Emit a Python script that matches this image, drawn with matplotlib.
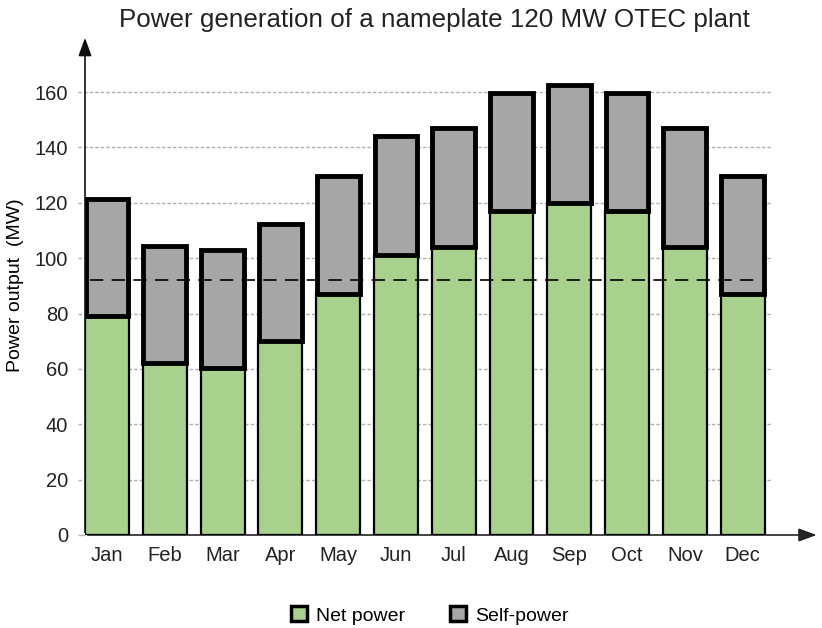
import numpy as np
import matplotlib.pyplot as plt

months = ['Jan', 'Feb', 'Mar', 'Apr', 'May', 'Jun', 'Jul', 'Aug', 'Sep', 'Oct', 'Nov', 'Dec']
net_power = [79, 62, 60.5, 70, 87, 101, 104, 117, 120, 117, 104, 87]
self_power = [42.5, 42.5, 42.5, 42.5, 42.5, 43, 43, 42.5, 42.5, 42.5, 43, 42.5]
average_net = 92
grid_ticks = [20, 40, 60, 80, 100, 120, 140, 160]

plt.rcParams['font.family'] = ['Liberation Sans', 'DejaVu Sans']

fig = plt.figure(figsize=(8.22, 6.28), dpi=100)
ax = fig.add_axes([85 / 822, 1 - 535 / 628, 1 - 85 / 822 - 0.003, (535 - 35) / 628])

x = np.arange(len(months))
green = '#a9d18e'
grey = '#a6a6a6'

# grid lines, slightly left of the axis like the original
ax.hlines(grid_ticks, -0.5, 11.5, colors='#b0b0b0', linestyles=(0, (2.5, 1.5)), linewidth=1, zorder=0, clip_on=False)
ax.hlines(0, -0.5, -0.38, colors='#b0b0b0', linewidth=1, clip_on=False)

ax.bar(x, net_power, width=0.76, color=green, edgecolor='black', linewidth=1.6, zorder=2)
ax.bar(x, self_power, width=0.74, bottom=net_power, color=grey, edgecolor='black', linewidth=3.5, zorder=3)

ax.hlines(average_net, -0.29, 11.27, colors='black', linestyles=(0, (8, 5)), linewidth=1.2, zorder=4)

ax.set_xlim(-0.38, 12.33)
ax.set_ylim(0, 180.6)
ax.set_xticks(x)
ax.set_xticklabels(months, fontsize=14.5)
ax.set_yticks([0] + grid_ticks)
ax.tick_params(length=0, labelsize=14.5, colors='#222222')
ax.tick_params(axis='x', pad=8)
ax.tick_params(axis='y', pad=12)
for s in ax.spines.values():
    s.set_visible(False)

# axis arrows
ax.annotate('', xy=(0, 1), xytext=(0, 0), xycoords='axes fraction',
            arrowprops=dict(arrowstyle='-|>,head_length=1.1,head_width=0.4', color='#111111', lw=1.2), zorder=5)
ax.annotate('', xy=(1, 0), xytext=(0, 0), xycoords='axes fraction',
            arrowprops=dict(arrowstyle='-|>,head_length=1.1,head_width=0.4', color='#222222', lw=1.2), zorder=1)

ax.set_ylabel('Power output  (MW)', fontsize=14, labelpad=8)
fig.text(0.528, 0.968, 'Power generation of a nameplate 120 MW OTEC plant', ha='center', va='center', fontsize=18.7, color='#222222')

handles = [plt.Rectangle((0, 0), 1, 1, facecolor=green, edgecolor='black', linewidth=2.5),
           plt.Rectangle((0, 0), 1, 1, facecolor=grey, edgecolor='black', linewidth=2.5)]
fig.legend(handles, ['Net power', 'Self-power'], loc='center', bbox_to_anchor=(0.523, 0.02), ncol=2,
           frameon=False, fontsize=14, handlelength=0.8, handleheight=0.8, columnspacing=2.3, handletextpad=0.5)

fig.savefig('out.png', dpi=100)
